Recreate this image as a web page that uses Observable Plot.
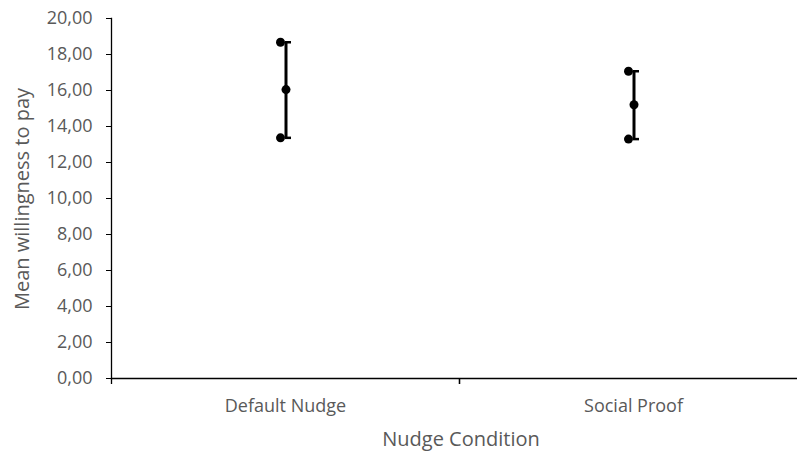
<!DOCTYPE html>
<html>
<head>
<meta charset="utf-8">
<script src="https://cdn.jsdelivr.net/npm/d3@7"></script>
<script src="https://cdn.jsdelivr.net/npm/@observablehq/plot@0.6"></script>
<style>
  html, body { margin: 0; padding: 0; background: #fff; }
  svg { display: block; }
</style>
</head>
<body>
<div id="chart"></div>
<script>
const categories = ["Default Nudge", "Social Proof"];
const means = [16.05, 15.21];
const lows = [13.37, 13.30];
const highs = [18.68, 17.07];
const yTicks = [0, 2, 4, 6, 8, 10, 12, 14, 16, 18, 20];

const data = categories.map((c, i) => ({cat: c, mean: means[i], low: lows[i], high: highs[i]}));

const W = 797, H = 452;
const xRange = [111, 807];
const band = (xRange[1] - xRange[0]) / categories.length;
const grey = "#595959";
const font = "'Open Sans', Lato, sans-serif";

const chart = Plot.plot({
  width: W,
  height: H,
  marginLeft: 111,
  marginRight: 0,
  marginTop: 18,
  marginBottom: 74,
  style: {fontFamily: font, background: "white"},
  x: {type: "band", domain: categories, range: xRange, padding: 0},
  y: {domain: [0, 20]},
  marks: [
    Plot.axisY({
      ticks: yTicks,
      tickSize: 5,
      tickPadding: 14,
      tickFormat: d => d.toFixed(2).replace(".", ","),
      fontSize: 18,
      color: grey,
      stroke: "#000",
      label: null
    }),
    Plot.axisX({
      tickSize: 0,
      tickPadding: 21,
      fontSize: 18,
      color: grey,
      label: null
    }),
    // x-axis boundary ticks
    Plot.ruleX(categories, {x: d => d, y1: 0, y2: 6 / 18, dy: 6, dx: -band / 2, stroke: "#000", strokeWidth: 1.3}),
    Plot.ruleX(categories, {x: d => d, y1: 0, y2: 6 / 18, dy: 6, dx: band / 2, stroke: "#000", strokeWidth: 1.3}),
    Plot.frame({anchor: "left", stroke: "#000", strokeWidth: 1.3}),
    Plot.frame({anchor: "bottom", stroke: "#000", strokeWidth: 1.3}),
    // error bars
    Plot.ruleX(data, {x: "cat", y1: "low", y2: "high", stroke: "#000", strokeWidth: 3, dx: 0.5}),
    Plot.tickY(data, {x: "cat", y: "high", stroke: "#000", strokeWidth: 2.5, insetLeft: band / 2, insetRight: band / 2 - 6}),
    Plot.tickY(data, {x: "cat", y: "low", stroke: "#000", strokeWidth: 2.5, insetLeft: band / 2, insetRight: band / 2 - 6}),
    Plot.dot(data, {x: "cat", y: "high", r: 4.5, fill: "#000", dx: -5}),
    Plot.dot(data, {x: "cat", y: "low", r: 4.5, fill: "#000", dx: -5}),
    Plot.dot(data, {x: "cat", y: "mean", r: 4.5, fill: "#000", dx: 0.5}),
    // axis titles
    Plot.text(["Mean willingness to pay"], {frameAnchor: "left", textAnchor: "middle", lineAnchor: "middle", dx: -89, dy: 0.5, rotate: -90, fontSize: 20, fill: grey}),
    Plot.text(["Nudge Condition"], {frameAnchor: "bottom", textAnchor: "middle", lineAnchor: "middle", dy: 60.6, dx: 6.5, fontSize: 20, fill: grey})
  ]
});

document.getElementById("chart").appendChild(chart);
</script>
</body>
</html>
